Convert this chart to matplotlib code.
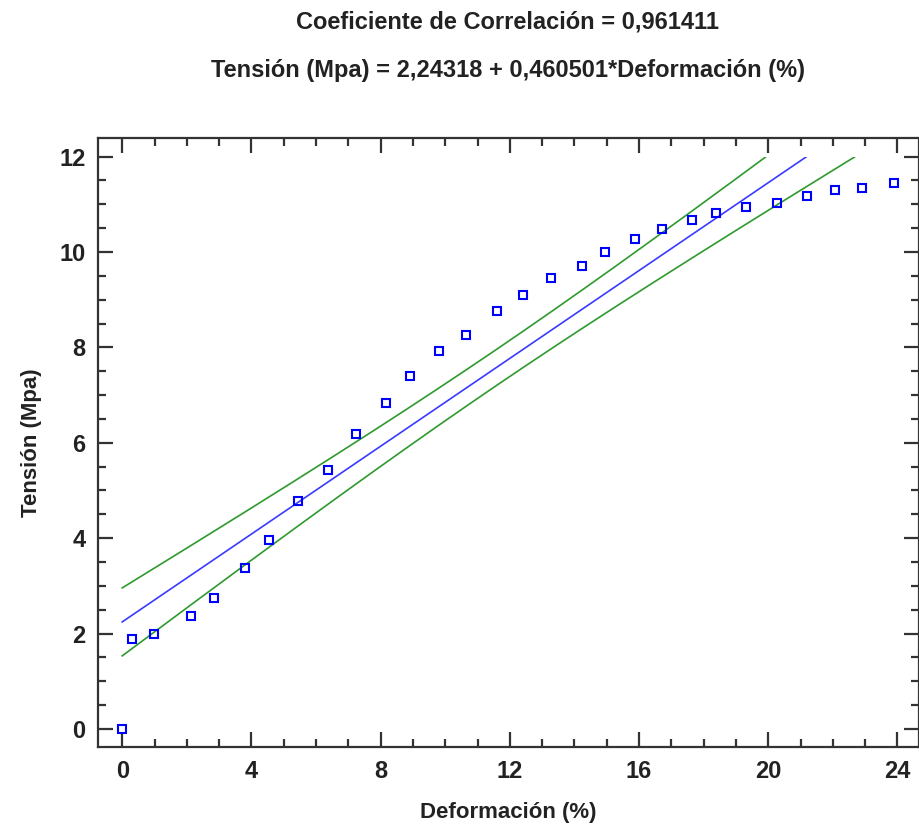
import numpy as np
import matplotlib
matplotlib.use("Agg")
import matplotlib.pyplot as plt
from matplotlib.patches import Rectangle
from matplotlib.ticker import MultipleLocator

# Measured strain (%) and stress (MPa)
deformacion = [0.00, 0.30, 0.99, 2.13, 2.84, 3.79, 4.55, 5.44, 6.37, 7.23,
               8.16, 8.90, 9.82, 10.64, 11.60, 12.41, 13.27, 14.23, 14.94, 15.87,
               16.71, 17.64, 18.38, 19.31, 20.27, 21.20, 22.07, 22.91, 23.90]
tension = [0.00, 1.89, 2.00, 2.37, 2.75, 3.38, 3.96, 4.78, 5.43, 6.18,
           6.84, 7.41, 7.93, 8.27, 8.77, 9.10, 9.46, 9.71, 10.00, 10.28,
           10.48, 10.68, 10.81, 10.95, 11.03, 11.18, 11.31, 11.34, 11.45]

# Fitted model
intercepto = 2.24318
pendiente = 0.460501
correlacion = 0.961411

x_ticks = [0, 4, 8, 12, 16, 20, 24]
y_ticks = [0, 2, 4, 6, 8, 10, 12]

x = np.asarray(deformacion)
y = np.asarray(tension)
n = len(x)

# 95% confidence limits for the mean response
resid = y - (intercepto + pendiente * x)
s = np.sqrt(np.sum(resid ** 2) / (n - 2))
sxx = np.sum((x - x.mean()) ** 2)
t_crit = 2.052  # t(0.975, df=27)
xg = np.linspace(0, 24, 600)
yg = intercepto + pendiente * xg
hw = t_crit * s * np.sqrt(1.0 / n + (xg - x.mean()) ** 2 / sxx)

fig = plt.figure(figsize=(9.2, 8.3), dpi=100)
ax = fig.add_axes([0.1065, 0.1, 0.8925, 0.7337])

font = ["Liberation Sans", "DejaVu Sans"]

clip = Rectangle((-5, -5), 40, 17, transform=ax.transData)
for yy, col in [(yg + hw, "#2e9a2e"), (yg, "#3a3aff"), (yg - hw, "#2e9a2e")]:
    ln, = ax.plot(xg, yy, color=col, lw=1.2, zorder=2)
    ln.set_clip_path(clip)

ax.plot(x, y, linestyle="none", marker="s", markersize=5.5,
        markerfacecolor="none", markeredgecolor="#0000ff",
        markeredgewidth=1.5, zorder=3)

ax.set_xlim(-0.75, 24.67)
ax.set_ylim(-0.38, 12.39)
ax.xaxis.set_major_locator(MultipleLocator(4))
ax.xaxis.set_minor_locator(MultipleLocator(1))
ax.yaxis.set_major_locator(MultipleLocator(2))
ax.yaxis.set_minor_locator(MultipleLocator(0.5))
ax.set_xticks(x_ticks)
ax.set_yticks(y_ticks)

for sp in ax.spines.values():
    sp.set_linewidth(1.6)
    sp.set_color("#333333")

ax.tick_params(which="both", direction="in", top=True, right=True,
               color="#333333", width=1.6)
ax.tick_params(which="major", length=11, pad=9, labelsize=17)
ax.tick_params(which="minor", length=6)
for lab in ax.get_xticklabels() + ax.get_yticklabels():
    lab.set_family(font)
    lab.set_fontweight("bold")
    lab.set_color("#222222")

ax.set_xlabel("Deformación (%)", family=font, fontweight="bold",
              fontsize=16, color="#222222", labelpad=14)
ax.set_ylabel("Tensión (Mpa)", family=font, fontweight="bold",
              fontsize=16, color="#222222", labelpad=12)

fig.text(0.552, 0.974, "Coeficiente de Correlación = 0,961411",
         family=font, fontweight="bold", fontsize=17, color="#222222",
         ha="center", va="center")
fig.text(0.552, 0.915,
         "Tensión (Mpa) = 2,24318 + 0,460501*Deformación (%)",
         family=font, fontweight="bold", fontsize=17, color="#222222",
         ha="center", va="center")

fig.savefig("out.png", dpi=100)
